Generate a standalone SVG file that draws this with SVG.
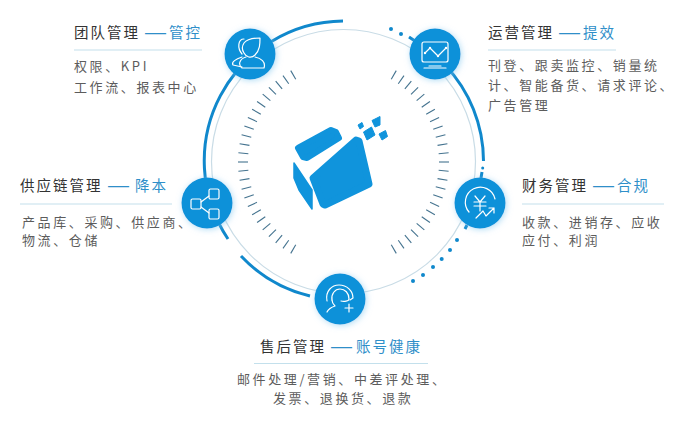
<svg xmlns="http://www.w3.org/2000/svg" width="690" height="427" viewBox="0 0 690 427">
<style>
text{font-family:"Noto Sans CJK SC","Liberation Sans",sans-serif}
.t{font-size:14.5px;letter-spacing:2px;fill:#333}
.b{font-size:14.5px;letter-spacing:2px;fill:#2f8fc9}
.d{font-size:21px;fill:#2f8fc9;font-family:"Liberation Sans",sans-serif}
.p{font-size:13px;letter-spacing:2.6px;fill:#5c5c5c}
.rule{stroke:#c3e0ec;stroke-width:1.2;fill:none}
.arc{fill:none;stroke:#1088cc;stroke-width:3}
.dot{fill:#1088cc}
.tick{stroke:#44738f;stroke-width:1.1}
.n{fill:#0c91d9;filter:url(#glow)}
.i{fill:none;stroke:#fff;stroke-width:1.2;stroke-linejoin:round;stroke-linecap:round}
.logo{fill:#1094dc;stroke:#1094dc;stroke-linejoin:round}
</style>
<defs>
<filter id="glow" x="-30%" y="-30%" width="160%" height="160%"><feDropShadow dx="1" dy="1" stdDeviation="3" flood-color="#7cc4ee" flood-opacity=".6"/></filter>
<line id="tk" class="tick" x1="343.5" y1="56" x2="343.5" y2="66"/>
</defs>

<g id="connectors">
<circle cx="343.5" cy="161.5" r="132" fill="none" stroke="#c9dce6" stroke-width="1.2"/>
<path class="arc" d="M343,21A140,140 0 0 0 228,239"/>
<path class="arc" d="M241,256A140,140 0 0 0 310,296"/>
<path class="arc" d="M445,65A140,140 0 0 1 483.500,161"/>
<path class="arc" d="M409,37L415,41M482,172L481,178M467,225L465,229"/>
<g class="dot">
<circle cx="482.700" cy="168" r="1.500"/>
<circle cx="391" cy="29" r="2"/><circle cx="401" cy="34" r="2"/>
<circle cx="457" cy="240" r="2"/><circle cx="450" cy="250" r="2"/><circle cx="441.700" cy="259" r="2"/><circle cx="433" cy="267" r="2"/><circle cx="423" cy="275" r="2"/><circle cx="413" cy="281" r="2"/>
</g>
</g>

<g id="ticks" transform="translate(0,0.5)">
<use href="#tk" transform="rotate(-150 343.5 161.5)"/><use href="#tk" transform="rotate(-145 343.5 161.5)"/><use href="#tk" transform="rotate(-140 343.5 161.5)"/><use href="#tk" transform="rotate(-135 343.5 161.5)"/><use href="#tk" transform="rotate(-130 343.5 161.5)"/><use href="#tk" transform="rotate(-125 343.5 161.5)"/><use href="#tk" transform="rotate(-120 343.5 161.5)"/><use href="#tk" transform="rotate(-115 343.5 161.5)"/><use href="#tk" transform="rotate(-110 343.5 161.5)"/><use href="#tk" transform="rotate(-105 343.5 161.5)"/><use href="#tk" transform="rotate(-100 343.5 161.5)"/><use href="#tk" transform="rotate(-95 343.5 161.5)"/><use href="#tk" transform="rotate(-90 343.5 161.5)"/><use href="#tk" transform="rotate(-85 343.5 161.5)"/><use href="#tk" transform="rotate(-80 343.5 161.5)"/><use href="#tk" transform="rotate(-75 343.5 161.5)"/><use href="#tk" transform="rotate(-70 343.5 161.5)"/><use href="#tk" transform="rotate(-65 343.5 161.5)"/><use href="#tk" transform="rotate(-60 343.5 161.5)"/><use href="#tk" transform="rotate(-55 343.5 161.5)"/><use href="#tk" transform="rotate(-50 343.5 161.5)"/><use href="#tk" transform="rotate(-45 343.5 161.5)"/><use href="#tk" transform="rotate(-40 343.5 161.5)"/><use href="#tk" transform="rotate(-35 343.5 161.5)"/><use href="#tk" transform="rotate(-30 343.5 161.5)"/>
<use href="#tk" transform="rotate(30 343.5 161.5)"/><use href="#tk" transform="rotate(35 343.5 161.5)"/><use href="#tk" transform="rotate(40 343.5 161.5)"/><use href="#tk" transform="rotate(45 343.5 161.5)"/><use href="#tk" transform="rotate(50 343.5 161.5)"/><use href="#tk" transform="rotate(55 343.5 161.5)"/><use href="#tk" transform="rotate(60 343.5 161.5)"/><use href="#tk" transform="rotate(65 343.5 161.5)"/><use href="#tk" transform="rotate(70 343.5 161.5)"/><use href="#tk" transform="rotate(75 343.5 161.5)"/><use href="#tk" transform="rotate(80 343.5 161.5)"/><use href="#tk" transform="rotate(85 343.5 161.5)"/><use href="#tk" transform="rotate(90 343.5 161.5)"/><use href="#tk" transform="rotate(95 343.5 161.5)"/><use href="#tk" transform="rotate(100 343.5 161.5)"/><use href="#tk" transform="rotate(105 343.5 161.5)"/><use href="#tk" transform="rotate(110 343.5 161.5)"/><use href="#tk" transform="rotate(115 343.5 161.5)"/><use href="#tk" transform="rotate(120 343.5 161.5)"/><use href="#tk" transform="rotate(125 343.5 161.5)"/><use href="#tk" transform="rotate(130 343.5 161.5)"/><use href="#tk" transform="rotate(135 343.5 161.5)"/><use href="#tk" transform="rotate(140 343.5 161.5)"/><use href="#tk" transform="rotate(145 343.5 161.5)"/><use href="#tk" transform="rotate(150 343.5 161.5)"/>
</g>

<g id="logo" class="logo">
<path stroke-width="6" d="M298,148L331,130L336,132L339,138L307,158L303,157Z"/>
<path stroke-width="7" d="M313,178L356,140L359,141L369,184L325,205L323,204Z"/>
<path stroke-width="1.500" d="M294,163L312,190L312,209L299,190L294,178Z"/>
<path stroke-width="1" d="M358,125L362,122.500L363.500,126.500L360,129Z"/>
<path stroke-width="1" d="M363.500,132L371.500,127L375,135L367,140Z"/>
<path stroke-width="1" d="M372,120.500L380,116.500L380,125L375,127Z"/>
<path stroke-width="1" d="M379,134L385.500,130.500L387.500,136.500L382,140Z"/>
</g>

<g id="node-team">
<circle class="n" cx="250" cy="54" r="25.500"/>
<g class="i" transform="translate(250,54)">
<path d="M-6,-11C-3,-15 5,-16 10,-16C10,-10 10,-4 5,1C1,5 -4,3 -6,-1C-8,-4 -8,-8 -6,-11Z"/>
<path d="M-4,3C-11,5 -12,11 -8,14L14,14C16,8 11,4 5,3"/>
<path d="M-6,-15C-12,-15 -13,-6 -8,0M-8,3C-14,5 -19,8 -17,11L-8,13"/>
</g>
<text class="t" x="74" y="38">团队管理</text><text class="d" x="145" y="39">—</text><text class="b" x="169" y="38">管控</text>
<line class="rule" x1="74" y1="50" x2="202" y2="50"/>
<text class="p" x="74" y="71">权限、KPI</text>
<text class="p" x="74" y="92">工作流、报表中心</text>
</g>

<g id="node-ops">
<circle class="n" cx="435" cy="54" r="25.500"/>
<g class="i" transform="translate(435,54)">
<rect x="-13" y="-12" width="26" height="20" rx="2"/>
<path d="M-10,-1L-5,-6L3,2L11,-6"/>
<path d="M-11,14H11M-6,12H6"/>
<g fill="#fff"><circle cx="-10" cy="-1" r=".6"/><circle cx="-5" cy="-6" r=".6"/><circle cx="3" cy="2" r=".6"/><circle cx="11" cy="-6" r=".6"/></g>
</g>
<text class="t" x="488" y="38">运营管理</text><text class="d" x="559" y="39">—</text><text class="b" x="583" y="38">提效</text>
<line class="rule" x1="488" y1="50" x2="616" y2="50"/>
<text class="p" x="488" y="70">刊登、跟卖监控、销量统</text>
<text class="p" x="488" y="90">计、智能备货、请求评论、</text>
<text class="p" x="488" y="110">广告管理</text>
</g>

<g id="node-supply">
<circle class="n" cx="207" cy="203" r="25.500"/>
<g class="i" transform="translate(207,203)">
<rect x="-16" y="-4" width="10" height="10" rx="1.500"/>
<rect x="2" y="-14" width="10" height="10" rx="1.500"/>
<rect x="2" y="6" width="10" height="10" rx="1.500"/>
<path d="M-6,-1L2,-7M-6,4L2,10"/>
</g>
<text class="t" x="20" y="191">供应链管理</text><text class="d" x="108" y="192">—</text><text class="b" x="135" y="191">降本</text>
<line class="rule" x1="20" y1="204" x2="172" y2="204"/>
<text class="p" x="22" y="227">产品库、采购、供应商、</text>
<text class="p" x="22" y="245">物流、仓储</text>
</g>

<g id="node-finance">
<circle class="n" cx="480" cy="203" r="25.500"/>
<g class="i" transform="translate(480,203)">
<path d="M15,-4A15,15 0 1 0 -11,9"/>
<path d="M-5,-7L0,-1L5,-7M0,-1V8M-6,-1H6M-6,3H6"/>
<path d="M-4,15L3,8L6,13L14,5M9,5H14V10"/>
</g>
<text class="t" x="522" y="191">财务管理</text><text class="d" x="593" y="192">—</text><text class="b" x="617" y="191">合规</text>
<line class="rule" x1="522" y1="204" x2="664" y2="204"/>
<text class="p" x="522" y="227">收款、进销存、应收</text>
<text class="p" x="522" y="245">应付、利润</text>
</g>

<g id="node-aftersales">
<circle class="n" cx="340" cy="299" r="25.500"/>
<g class="i" transform="translate(340,299)">
<path d="M-13,2C-15,-8 -8,-14 -1,-14C7,-14 13,-8 13,-1L10,1"/>
<path d="M-8,1C-9,-5 -5,-10 0,-10C5,-10 9,-6 9,0C9,2 4,3 1,2"/>
<path d="M-13,13C-11,9 -8,8 -5,7C-7,5 -8,3 -8,1"/>
<path d="M9,5V13M5,9H13"/>
</g>
<text class="t" x="260" y="352">售后管理</text><text class="d" x="331" y="353">—</text><text class="b" x="356" y="352">账号健康</text>
<line class="rule" x1="254" y1="363.500" x2="428" y2="363.500"/>
<text class="p" x="237" y="384">邮件处理/营销、中差评处理、</text>
<text class="p" x="273" y="403">发票、退换货、退款</text>
</g>
</svg>
